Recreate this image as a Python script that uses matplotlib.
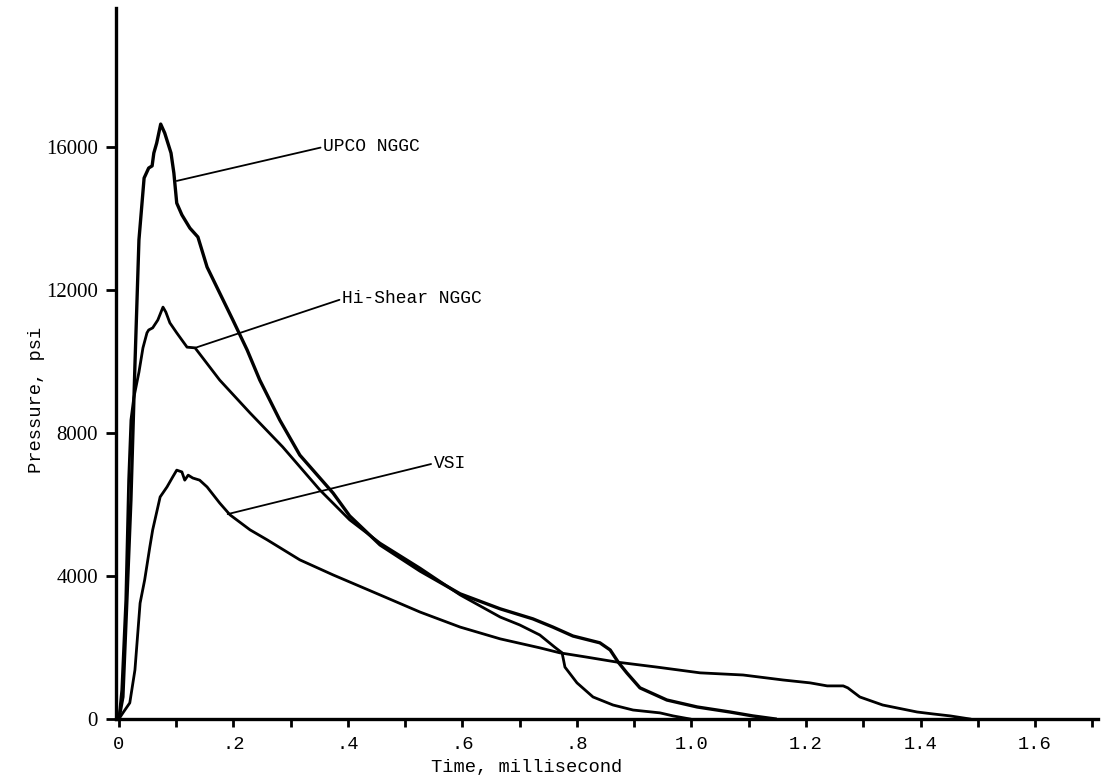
import numpy as np
import matplotlib.pyplot as plt
from matplotlib.ticker import MultipleLocator, FixedLocator

# Pressure traces (time in ms, pressure in psi)
upco_t = [0, .007, .014, .021, .028, .035, .044, .052, .058, .061, .066, .073,
          .080, .091, .096, .101, .110, .124, .138, .154, .171, .199, .224, .246,
          .281, .316, .374, .403, .456, .526, .596, .666, .723, .758, .793, .840,
          .858, .872, .887, .910, .957, 1.010, 1.067, 1.107, 1.146]
upco_p = [0, 615, 3330, 6125, 9900, 13400, 15130, 15410, 15470, 15830, 16110, 16640,
          16390, 15830, 15270, 14430, 14100, 13730, 13480, 12640, 12080, 11160, 10320, 9480,
          8360, 7380, 6320, 5680, 4870, 4140, 3500, 3080, 2800, 2570, 2320, 2130,
          1930, 1590, 1290, 870, 530, 335, 195, 85, 0]

hishear_t = [0, .005, .012, .017, .021, .026, .035, .042, .049, .052, .059, .068,
             .077, .082, .089, .101, .119, .133, .176, .229, .286, .351, .403, .456,
             .526, .596, .666, .700, .735, .761, .774, .779, .800, .828, .863, .898,
             .945, .968, .997]
hishear_p = [0, 810, 3330, 6680, 8360, 8980, 9700, 10380, 10800, 10880, 10940, 11160,
             11520, 11380, 11080, 10800, 10400, 10380, 9480, 8560, 7610, 6405, 5570, 4920,
             4220, 3470, 2850, 2630, 2350, 2010, 1850, 1450, 1010, 615, 390, 250,
             170, 85, 0]

vsi_t = [0, .007, .019, .028, .037, .045, .054, .059, .072, .084, .094, .101,
         .110, .115, .121, .129, .141, .154, .176, .194, .229, .259, .316, .374,
         .456, .526, .596, .666, .735, .770, .817, .870, .940, 1.015, 1.090, 1.160,
         1.207, 1.237, 1.265, 1.273, 1.294, 1.334, 1.394, 1.422, 1.452, 1.486]
vsi_p = [0, 170, 450, 1370, 3240, 3890, 4810, 5290, 6210, 6490, 6770, 6960,
         6910, 6680, 6820, 6740, 6680, 6490, 6040, 5710, 5290, 5010, 4450, 4030,
         3470, 2990, 2570, 2240, 1990, 1850, 1730, 1590, 1450, 1290, 1230, 1090,
         1010, 925, 925, 870, 615, 390, 195, 140, 85, 0]

x_ticks = [0, .2, .4, .6, .8, 1.0, 1.2, 1.4, 1.6]
x_labels = ['0', '.2', '.4', '.6', '.8', '1.0', '1.2', '1.4', '1.6']
y_ticks = [0, 4000, 8000, 12000, 16000]
y_labels = ['0', '4000', '8000', '12000', '16000']

mono = 'Liberation Mono'
serif = 'Liberation Serif'

fig = plt.figure(figsize=(11.02, 7.76), dpi=100)
ax = fig.add_axes([0.1053, 0.0735, 0.8911, 0.9162])

ax.plot(upco_t, upco_p, color='black', lw=2.4, solid_joinstyle='round')
ax.plot(hishear_t, hishear_p, color='black', lw=2.0, solid_joinstyle='round')
ax.plot(vsi_t, vsi_p, color='black', lw=2.0, solid_joinstyle='round')

# curve labels with leader lines
lead = dict(arrowstyle='-', lw=1.3, color='black', shrinkA=0, shrinkB=0, relpos=(0, 0.5))
ax.annotate('UPCO NGGC', xy=(.101, 15050), xytext=(.357, 16000), textcoords='data',
            ha='left', va='center', fontsize=13, family=mono, arrowprops=lead)
ax.annotate('Hi-Shear NGGC', xy=(.133, 10380), xytext=(.39, 11750), textcoords='data',
            ha='left', va='center', fontsize=13, family=mono, arrowprops=lead)
ax.annotate('VSI', xy=(.190, 5730), xytext=(.55, 7150), textcoords='data',
            ha='left', va='center', fontsize=13, family=mono, arrowprops=lead)

ax.set_xlim(-0.005, 1.71)
ax.set_ylim(0, 19887)

ax.xaxis.set_major_locator(FixedLocator(x_ticks))
ax.set_xticklabels(x_labels, family=mono, fontsize=13.5)
ax.xaxis.set_minor_locator(MultipleLocator(0.1))
ax.yaxis.set_major_locator(FixedLocator(y_ticks))
ax.set_yticklabels(y_labels, family=serif, fontsize=15)

ax.tick_params(axis='x', which='both', direction='out', length=6, width=2, pad=6)
ax.tick_params(axis='y', which='both', direction='out', length=7, width=2, pad=6)

for side in ['top', 'right']:
    ax.spines[side].set_visible(False)
for side in ['left', 'bottom']:
    ax.spines[side].set_linewidth(2.4)

ax.set_xlabel('Time, millisecond', family=mono, fontsize=13.5, va='top')
ax.xaxis.set_label_coords(0.4185, -0.056)
ax.set_ylabel('Pressure, psi', family=mono, fontsize=13.5)
ax.yaxis.set_label_coords(-0.072, 0.449)

fig.savefig('out.png', dpi=100)
